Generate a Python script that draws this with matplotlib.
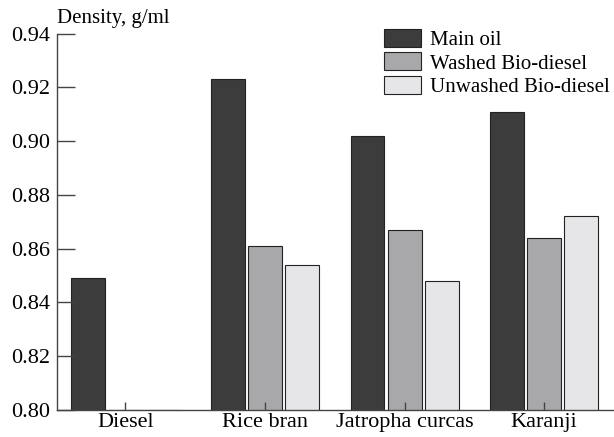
import matplotlib.pyplot as plt
import numpy as np

categories = ['Diesel', 'Rice bran', 'Jatropha curcas', 'Karanji']
main_oil = [0.849, 0.923, 0.902, 0.911]
washed = [0.800, 0.861, 0.867, 0.864]
unwashed = [0.800, 0.854, 0.848, 0.872]

plt.rcParams['font.family'] = ['Liberation Serif', 'DejaVu Serif']

fig = plt.figure(figsize=(6.14, 4.37), dpi=100)
ax = fig.add_axes([0.093, 0.062, 0.907, 0.861])

x = np.arange(len(categories))
w = 0.243
off = 0.266
ax.bar(x - off, main_oil, w, color='#3c3c3c', edgecolor='#222222', linewidth=0.8, label='Main oil')
ax.bar(x, washed, w, color='#a8a8aa', edgecolor='#222222', linewidth=0.8, label='Washed Bio-diesel')
ax.bar(x + off, unwashed, w, color='#e6e6e8', edgecolor='#222222', linewidth=0.8, label='Unwashed Bio-diesel')

ax.set_ylim(0.80, 0.94)
ax.set_xlim(-0.49, 3.5)
ax.set_yticks(np.arange(0.80, 0.941, 0.02))
ax.set_yticklabels([f'{v:.2f}' for v in np.arange(0.80, 0.941, 0.02)])
ax.set_xticks(x)
ax.set_xticklabels(categories)

for s in ['top', 'right']:
    ax.spines[s].set_visible(False)
for s in ['left', 'bottom']:
    ax.spines[s].set_color('#444444')
    ax.spines[s].set_linewidth(1.0)

ax.tick_params(axis='y', direction='in', length=13, width=1.0, color='#444444', labelsize=16, pad=5)
ax.tick_params(axis='x', direction='in', length=6, width=1.0, color='#444444', labelsize=16, pad=2)

ax.text(0.0, 1.015, 'Density, g/ml', transform=ax.transAxes, fontsize=15, ha='left', va='bottom')

ax.legend(loc='upper right', bbox_to_anchor=(1.015, 1.045), frameon=False, fontsize=15,
          handlelength=1.75, handleheight=0.95, handletextpad=0.45, labelspacing=0.1,
          borderaxespad=0.2)

plt.savefig('out.png', dpi=100)
